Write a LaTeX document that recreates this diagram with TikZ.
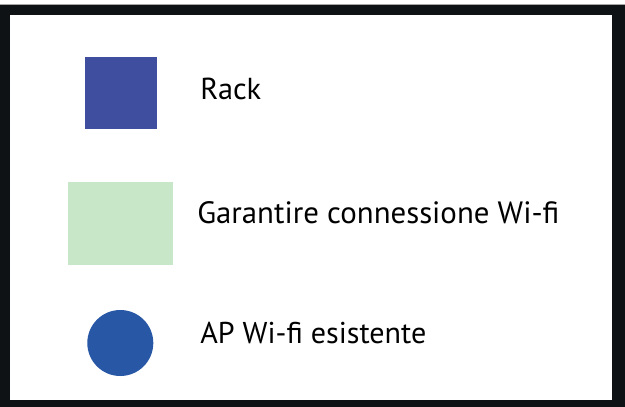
\documentclass[tikz,border=0pt]{standalone}
\usepackage{fontspec}
\setmainfont{PT Sans}
\definecolor{rackblue}{HTML}{404EA0}
\definecolor{wifigreen}{HTML}{C7E7C8}
\definecolor{apblue}{HTML}{2757A5}
\definecolor{framecol}{HTML}{0F1215}
\begin{document}
\begin{tikzpicture}[x=0.75pt,y=-0.75pt,
  lbl/.style={anchor=base west,inner sep=0pt,font=\fontsize{22}{26}\selectfont}]
\useasboundingbox (0,0) rectangle (625,407);
\fill[white] (0,0) rectangle (625,407);
\fill[framecol] (0,4.5) rectangle (625,407);
\draw[gray!70,line width=0.6pt] (0,4.5) -- (625,4.5);
\fill[white] (10,15) rectangle (612,400);
\node[fill=rackblue,minimum width=72*0.75pt,minimum height=72*0.75pt,inner sep=0pt] (rack) at (121,93) {};
\node[fill=wifigreen,minimum width=105*0.75pt,minimum height=83*0.75pt,inner sep=0pt] (wifi) at (120.5,223.5) {};
\node[circle,fill=apblue,minimum size=66*0.75pt,inner sep=0pt] (ap) at (120.3,343) {};
\node[lbl] (t1) at (200,99.3) {\resizebox{45.75pt}{!}{Rack}};
\node[lbl] (t2) at (197,223) {\resizebox{271.5pt}{!}{Garantire connessione Wi-fi}};
\node[lbl] (t3) at (200,343) {\resizebox{169.5pt}{!}{AP Wi-fi esistente}};
\end{tikzpicture}
\end{document}
